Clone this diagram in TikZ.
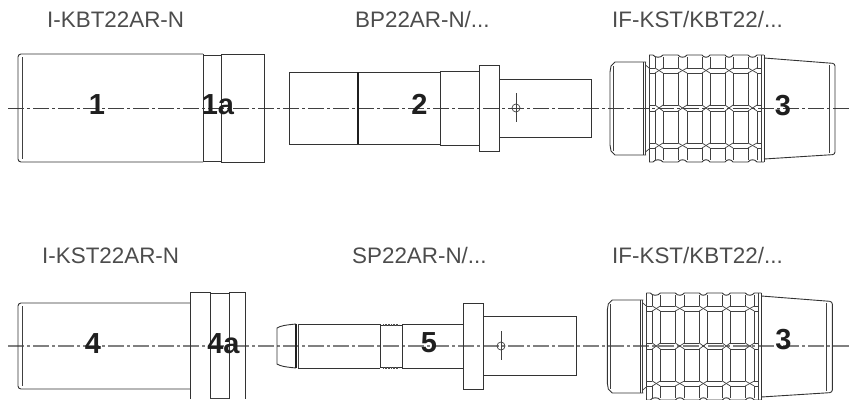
\documentclass[tikz,border=0pt]{standalone}
\usepackage{fontspec}
\setmainfont{Liberation Sans}
\tikzset{
  part/.style={draw=black!80,line width=0.9pt,line join=miter},
  thickpart/.style={draw=black!88,line width=1.4pt},
  thinpart/.style={draw=black!75,line width=0.7pt},
  axisA/.style={draw=black!75,line width=0.7pt,dash pattern=on 16pt off 3pt on 2.5pt off 3.5pt},
  axisB/.style={draw=black!50,line width=1.1pt,dash pattern=on 16pt off 3pt on 2.5pt off 3.5pt},
  title/.style={anchor=base west,inner sep=0pt,text=black!70,font=\fontsize{22.4}{22.4}\selectfont},
  num/.style={anchor=base,inner sep=0pt,text=black!88,font=\fontsize{29}{29}\selectfont\bfseries},
}
\newcommand{\knurledconnector}{%
  % threaded cap
  \draw[part] (646,62) -- (615,62) -- (611,66) -- (610,72) -- (610,145) -- (611,151) -- (615,155) -- (646,155);
  \draw[thinpart] (613.5,66) -- (613.5,151);
  \draw[part] (643,62) -- (643,155);
  \draw[thinpart] (645.5,62) -- (645.5,155);
  \draw[thinpart] (645.5,65) -- (649,68);
  \draw[thinpart] (645.5,152) -- (649,149);
  % knurled sleeve: outline
  \draw[part] (649,55) -- (649,162);
  \draw[part] (649,55) -- (653,55) .. controls (655,58) and (661,58) .. (663,55)
     -- (678,55) .. controls (680,58) and (685,58) .. (687,55)
     -- (702,55) .. controls (704,58) and (708,58) .. (710,55)
     -- (725,55) .. controls (727,58) and (731,58) .. (733,55)
     -- (748,55) .. controls (750,58) and (755,58) .. (757,55) -- (764,55);
  \draw[part] (649,162) -- (653,162) .. controls (655,159) and (661,159) .. (663,162)
     -- (678,162) .. controls (680,159) and (685,159) .. (687,162)
     -- (702,162) .. controls (704,159) and (708,159) .. (710,162)
     -- (725,162) .. controls (727,159) and (731,159) .. (733,162)
     -- (748,162) .. controls (750,159) and (755,159) .. (757,162) -- (764,162);
  \draw[part] (764,55) -- (764,162);
  \draw[thinpart] (761,55) -- (761,162);
  % knurled sleeve: cells
  \foreach \xa/\xb in {649/655,663/678,687/702,710/725,733/748,757/761}{
    \foreach \ya/\yb in {57/68,73/105,111/143,148/160}{
      \draw[thinpart] (\xa,\ya) -- (\xa,\yb);
      \draw[thinpart] (\xb,\ya) -- (\xb,\yb);
    }
    \foreach \yy in {68,73,105,111,143,148}{
      \draw[thinpart] (\xa,\yy) -- (\xb,\yy);
    }
  }
  % knurled sleeve: crossings
  \foreach \xa/\xb in {655/663,678/687,702/710,725/733,748/757}{
    \foreach \ya/\yb in {68/73,105/111,143/148}{
      \draw[thinpart] (\xa,\ya) -- (\xb,\yb);
      \draw[thinpart] (\xa,\yb) -- (\xb,\ya);
    }
  }
  % tapered rear
  \draw[part,rounded corners=2.5pt] (764,58) -- (835,63.5) -- (835,154.5) -- (764,159);
  \draw[thinpart] (829,65) -- (829,153);
}
\begin{document}
\begin{tikzpicture}[x=1pt,y=-1pt]
\useasboundingbox (0,0) rectangle (850,399);
% axes
\coordinate (axAs) at (8,108); \coordinate (axAe) at (850,108);
\coordinate (axBs) at (8,346); \coordinate (axBe) at (850,346);
\draw[axisA] (axAs) -- (axAe);
\draw[axisB] (axBs) -- (axBe);

% part 1 / 1a
\draw[part,rounded corners=3pt] (203,54) -- (18,54) -- (18,162) -- (203,162);
\draw[part] (203,54) -- (203,162);
\draw[thinpart] (22.5,57) -- (22.5,159);
\draw[part] (203,55) -- (221,55) (203,161) -- (221,161);
\draw[part] (221,54) rectangle (264,162);

% part 2
\draw[part] (289,72) rectangle (440,144);
\draw[thickpart] (358,72) -- (358,144);
\draw[part] (440,71) rectangle (479,145);
\draw[part] (479,65) rectangle (499,151);
\draw[part] (499,79) rectangle (591,137);
\draw[thinpart] (516,108) circle (4);
\draw[thinpart] (516,93) -- (516,122);

% part 3 (upper)
\knurledconnector

% part 4 / 4a
\draw[part,rounded corners=3pt] (190,303) -- (18,303) -- (18,389) -- (190,389);
\draw[thinpart] (22.5,306) -- (22.5,386);
\draw[part] (190,399) -- (190,292) -- (210,292) -- (210,399);
\draw[part] (210,293) -- (229,293);
\draw[part] (229,399) -- (229,292) -- (245,292) -- (245,399);
\draw[thinpart] (210,398) -- (229,398);

% part 5
\draw[part] (296,324) .. controls (285,325) and (280,326) .. (277,328) -- (277,364) .. controls (280,366) and (285,367) .. (296,368);
\draw[thickpart] (296,324) -- (296,368);
\draw[part] (298,324) -- (380,324) (298,368) -- (380,368);
\draw[thinpart] (298.5,324) -- (298.5,368);
\draw[part] (380,324) -- (380,368);
\draw[part] (380,325) -- (402,325) (380,367) -- (402,367);
\draw[line width=2pt,draw=black!70,dash pattern=on 1pt off 0.6pt] (383,324.5) -- (399,324.5) (383,367.5) -- (399,367.5);
\draw[part] (402,324) -- (402,368);
\draw[part] (402,324) -- (463,324) (402,368) -- (463,368);
\draw[part] (463,303) rectangle (483,389);
\draw[part] (483,316) rectangle (576,375);
\draw[thinpart] (501,346) circle (4);
\draw[thinpart] (501,331) -- (501,360);

% part 3 (lower)
\begin{scope}[shift={(-2.7,238)}]
\knurledconnector
\end{scope}

% titles
\node[title] (t1) at (47,27) {I-KBT22AR-N};
\node[title] (t2) at (355,27) {BP22AR-N/...};
\node[title] (t3) at (612,27) {IF-KST/KBT22/...};
\node[title] (t4) at (42,263) {I-KST22AR-N};
\node[title] (t5) at (352,263) {SP22AR-N/...};
\node[title] (t6) at (612,263) {IF-KST/KBT22/...};
% numbers
\node[num] (n1) at (97,114) {1};
\node[num] (n1a) at (218,114) {1a};
\node[num] (n2) at (419.5,114) {2};
\node[num] (n3) at (783,115) {3};
\node[num] (n4) at (93,353) {4};
\node[num] (n4a) at (223.5,353) {4a};
\node[num] (n5) at (429,352) {5};
\node[num] (n3b) at (783.5,349) {3};
\end{tikzpicture}
\end{document}
